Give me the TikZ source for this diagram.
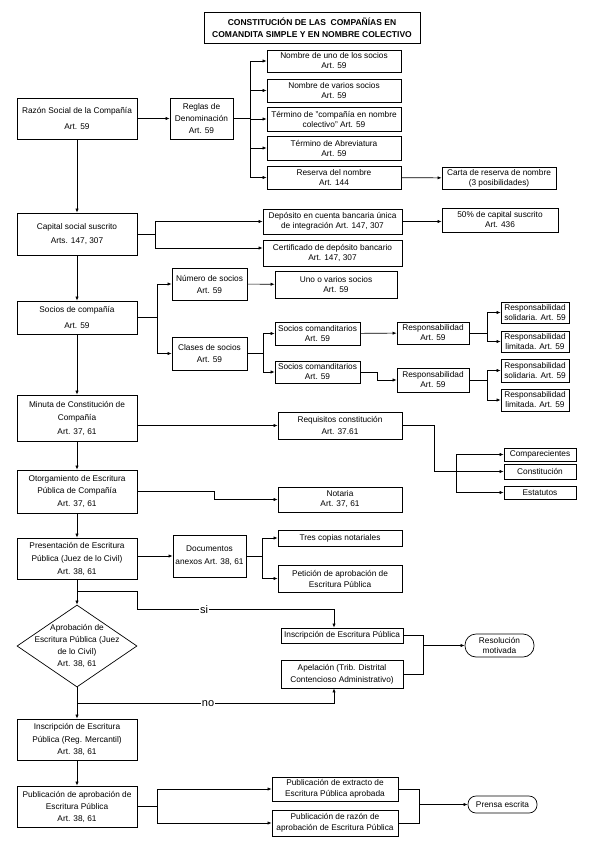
\documentclass[tikz,border=0pt]{standalone}
\usepackage{fontspec}
\setmainfont{Liberation Sans}
\usetikzlibrary{arrows.meta,shapes.geometric}
\begin{document}
\begin{tikzpicture}[x=1pt,y=-1pt,line width=0.6pt,
caja/.style={draw,line width=0.7pt,align=center,inner sep=1pt,font=\fontsize{8.3}{10}\selectfont},
lead/.style={font=\fontsize{8.3}{#1}\selectfont},
tam/.style 2 args={minimum width=#1pt,minimum height=#2pt},
redondo/.style={caja,rounded corners=#1},
flecha/.style={-{Latex[length=4pt,width=3.2pt]}},
rotulo/.style={fill=white,inner sep=1pt,font=\fontsize{11}{13}\selectfont}]
\useasboundingbox (0,0) rectangle (595,842);
\node[caja,tam={216}{31},font=\fontsize{8.5}{12}\selectfont\bfseries] (titulo) at (312,27.5) {CONSTITUCIÓN DE LAS\ \ COMPAÑÍAS EN\\COMANDITA SIMPLE Y EN NOMBRE COLECTIVO};
\node[caja,tam={120}{41},lead=16] (razon) at (77,118.5) {Razón Social de la Compañía\\Art. 59};
\node[caja,tam={63}{41},lead=12] (reglas) at (201.5,118.5) {Reglas de\\Denominación\\Art. 59};
\node[caja,tam={134}{22}] (nom1) at (334,61) {Nombre de uno de los socios\\Art. 59};
\node[caja,tam={134}{23}] (nom2) at (334,90.5) {Nombre de varios socios\\Art. 59};
\node[caja,tam={134}{24}] (term1) at (334,119) {Término de "compañía en nombre\\colectivo" Art. 59};
\node[caja,tam={134}{24}] (term2) at (334,148) {Término de Abreviatura\\Art. 59};
\node[caja,tam={134}{23}] (reserva) at (334,177.5) {Reserva del nombre\\Art. 144};
\node[caja,tam={114}{22}] (carta) at (499,178) {Carta de reserva de nombre\\(3 posibilidades)};
\node[caja,tam={120}{42},lead=14] (capital) at (77,234) {Capital social suscrito\\Arts. 147, 307};
\node[caja,tam={139}{25}] (deposito) at (332.5,221.5) {Depósito en cuenta bancaria única\\de integración Art. 147, 307};
\node[caja,tam={139}{26}] (cert) at (332.5,253) {Certificado de depósito bancario\\Art. 147, 307};
\node[caja,tam={116}{24}] (cincuenta) at (500,220) {50\% de capital suscrito\\Art. 436};
\node[caja,tam={120}{33},lead=16] (socios) at (77,317.5) {Socios de compañía\\Art. 59};
\node[caja,tam={75}{32},lead=12] (numero) at (209.5,284) {Número de socios\\Art. 59};
\node[caja,tam={75}{33},lead=11.5] (clases) at (209.5,353.5) {Clases de socios\\Art. 59};
\node[caja,tam={122}{27}] (uno) at (336,284.5) {Uno o varios socios\\Art. 59};
\node[caja,tam={85}{23}] (com1) at (317.5,333.5) {Socios comanditarios\\Art. 59};
\node[caja,tam={85}{22}] (com2) at (317.5,372) {Socios comanditarios\\Art. 59};
\node[caja,tam={72}{22}] (resp1) at (433,333) {Responsabilidad\\Art. 59};
\node[caja,tam={72}{24}] (resp2) at (433,380) {Responsabilidad\\Art. 59};
\node[caja,tam={68}{21}] (sol1) at (535,312.5) {Responsabilidad\\solidaria. Art. 59};
\node[caja,tam={68}{21}] (lim1) at (535,341.5) {Responsabilidad\\limitada. Art. 59};
\node[caja,tam={68}{23}] (sol2) at (535,370.5) {Responsabilidad\\solidaria. Art. 59};
\node[caja,tam={68}{22}] (lim2) at (535,400) {Responsabilidad\\limitada. Art. 59};
\node[caja,tam={120}{46},lead=13.5] (minuta) at (77,418) {Minuta de Constitución de\\Compañía\\Art. 37, 61};
\node[caja,tam={124}{27},lead=12] (requisitos) at (340,425.5) {Requisitos constitución\\Art. 37.61};
\node[caja,tam={72}{13}] (comp) at (540,454.5) {Comparecientes};
\node[caja,tam={72}{15}] (const) at (540,471.5) {Constitución};
\node[caja,tam={72}{13}] (estat) at (540,492.5) {Estatutos};
\node[caja,tam={120}{43},lead=12.5] (otorg) at (77,491.5) {Otorgamiento de Escritura\\Pública de Compañía\\Art. 37, 61};
\node[caja,tam={124}{25}] (notaria) at (340,499.5) {Notaria\\Art. 37, 61};
\node[caja,tam={120}{41},lead=13] (pres) at (77,558.5) {Presentación de Escritura\\Pública (Juez de lo Civil)\\Art. 38, 61};
\node[caja,tam={73}{42},lead=13] (docs) at (209.5,556) {Documentos\\anexos Art. 38, 61};
\node[caja,tam={124}{16}] (tres) at (340,538) {Tres copias notariales};
\node[caja,tam={124}{27},lead=11] (peticion) at (340,578.5) {Petición de aprobación de\\Escritura Pública};
\node[draw,diamond,line width=0.7pt,tam={120}{82},inner sep=0pt] (aprob) at (77,646) {};
\node[align=center,font=\fontsize{8.3}{12}\selectfont] (aprobtxt) at (aprob) {Aprobación de\\Escritura Pública (Juez\\de lo Civil)\\Art. 38, 61};
\node[caja,tam={122}{15}] (insc) at (342,635.5) {Inscripción de Escritura Pública};
\node[caja,tam={122}{28},lead=12] (apel) at (342,674) {Apelación (Trib. Distrital\\Contencioso Administrativo)};
\node[redondo=11pt,tam={69}{23}] (resol) at (499.5,645.5) {Resolución\\motivada};
\node[caja,tam={120}{41},lead=12.5] (inscreg) at (77,739.5) {Inscripción de Escritura\\Pública (Reg. Mercantil)\\Art. 38, 61};
\node[caja,tam={120}{41},lead=12] (publ) at (77,806.5) {Publicación de aprobación de\\Escritura Pública\\Art. 38, 61};
\node[caja,tam={126}{24},lead=11] (extracto) at (335,789) {Publicación de extracto de\\Escritura Pública aprobada};
\node[caja,tam={126}{26},lead=11] (razonpub) at (335,823) {Publicación de razón de\\aprobación de Escritura Pública};
\node[redondo=8pt,tam={69}{17}] (prensa) at (502.5,804.5) {Prensa escrita};
\draw[flecha] (razon) -- (reglas);
\draw (reglas.east) -- ++(17,0) coordinate (f1);
\foreach \n in {nom1,nom2,term1,term2,reserva} \draw[flecha] (f1) |- (\n.west);
\draw[flecha] (reserva) -- (carta);
\draw[flecha] (razon) -- (capital);
\draw (capital.east) -- ++(18,0) coordinate (f2);
\draw[flecha] (f2) |- (deposito.west);
\draw[flecha] (f2) |- ([yshift=5pt]cert.west);
\draw[flecha] (deposito.east) -- (deposito.east -| cincuenta.west);
\draw[flecha] (capital) -- (socios);
\draw (socios.east) -- ++(20,0) coordinate (f3);
\draw[flecha] (f3) |- (numero.west);
\draw[flecha] (f3) |- (clases.west);
\draw[flecha] (numero) -- (uno);
\draw (clases.east) -- ++(16,0) coordinate (f4);
\draw[flecha] (f4) |- (com1.west);
\draw[flecha] (f4) |- (com2.west);
\draw[flecha] (com1) -- (resp1);
\draw[flecha] (com2.east) -- ++(17,0) |- (resp2.west);
\draw (resp1.east) -- ++(18,0) coordinate (f5);
\draw[flecha] (f5) |- (sol1.west);
\draw[flecha] (f5) |- (lim1.west);
\draw (resp2.east) -- ++(18,0) coordinate (f6);
\draw[flecha] (f6) |- (sol2.west);
\draw[flecha] (f6) |- (lim2.west);
\draw[flecha] (socios) -- (minuta);
\draw[flecha] (minuta.east |- requisitos.west) -- (requisitos.west);
\draw[flecha] (requisitos.east) -- ++(32,0) |- (const.west);
\coordinate (f7) at ([xshift=-47pt]const.west);
\draw[flecha] (f7) |- (comp.west);
\draw[flecha] (f7) |- (estat.west);
\draw[flecha] (minuta) -- (otorg);
\draw[flecha] (otorg.east) -- ++(77,0) |- (notaria.west);
\draw[flecha] (otorg) -- (pres);
\draw[flecha] (pres.east |- docs.west) -- (docs.west);
\draw (docs.east) -- ++(16,0) coordinate (f8);
\draw[flecha] (f8) |- (tres.west);
\draw[flecha] (f8) |- (peticion.west);
\draw[flecha] (pres) -- (aprob);
\coordinate (s1) at ([yshift=-12pt]pres.south);
\draw[flecha] (s1) -| ++(60,18) -| node[pos=0.17,rotulo] {si} ([xshift=-8pt]insc.north);
\draw[flecha] (aprob) -- (inscreg);
\coordinate (n1) at ([yshift=-16pt]aprob.south);
\draw[flecha] (n1) -| node[pos=0.255,rotulo] {no} ([xshift=-8pt]apel.south);
\draw (insc.east) -- ++(20,0) coordinate (f9) |- (apel.east);
\draw[flecha] (f9 |- resol.west) -- (resol.west);
\draw[flecha] (inscreg) -- (publ);
\draw (publ.east) -- ++(20,0) coordinate (f10);
\draw[flecha] (f10) |- (extracto.west);
\draw[flecha] (f10) |- (razonpub.west);
\draw (extracto.east) -- ++(21,0) coordinate (f11) |- (razonpub.east);
\draw[flecha] (f11 |- prensa.west) -- (prensa.west);
\end{tikzpicture}
\end{document}
